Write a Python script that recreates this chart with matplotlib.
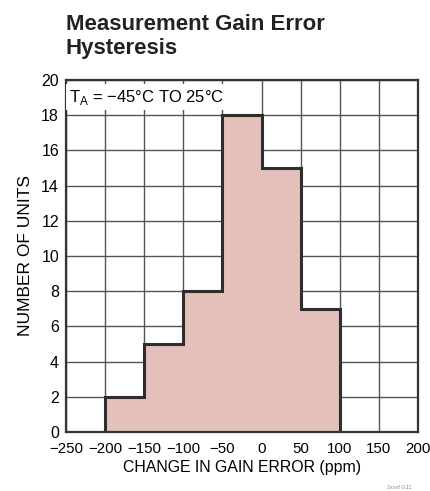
import matplotlib.pyplot as plt

# histogram bins (ppm) and counts
binEdges = [-200, -150, -100, -50, 0, 50, 100]
counts = [2, 5, 8, 18, 15, 7]
xTicks = [-250, -200, -150, -100, -50, 0, 50, 100, 150, 200]
yTicks = [0, 2, 4, 6, 8, 10, 12, 14, 16, 18, 20]

plt.rcParams['font.family'] = ['Liberation Sans', 'DejaVu Sans']

fig = plt.figure(figsize=(4.31, 4.91), dpi=100)
ax = fig.add_axes([0.1531, 0.1202, 0.8167, 0.7169])

ax.stairs(counts, binEdges, fill=True, color='#e4c0bb', zorder=2)
ax.stairs(counts, binEdges, fill=False, baseline=0, color='#2e2e2e', linewidth=2.2, zorder=3)

ax.set_xlim(-250, 200)
ax.set_ylim(0, 20)
ax.set_xticks(xTicks)
ax.set_yticks(yTicks)
ax.set_xticklabels([str(t).replace('-', '\u2212') for t in xTicks])
ax.tick_params(axis='y', length=0, labelsize=11.5, pad=5)
ax.tick_params(axis='x', length=0, labelsize=10.8, pad=7)
ax.grid(color='#555555', linewidth=1.0, zorder=1)
ax.set_axisbelow(True)
for s in ax.spines.values():
    s.set_linewidth(1.6)
    s.set_color('#333333')
    s.set_zorder(4)

ax.set_xlabel('CHANGE IN GAIN ERROR (ppm)', fontsize=11.4, labelpad=3)
ax.set_ylabel('NUMBER OF UNITS', fontsize=12.5, labelpad=6)

ax.text(-246, 19.55, 'T$_\\mathregular{A}$ = \u221245\u00b0C TO 25\u00b0C',
        fontsize=12, va='top', ha='left', zorder=5,
        bbox=dict(facecolor='white', edgecolor='none', pad=2.5))

fig.text(0.1531, 0.972, 'Measurement Gain Error\nHysteresis', fontsize=16, fontweight='bold',
         va='top', ha='left', linespacing=1.2, color='#222222')
fig.text(0.955, 0.003, '2xxxf G11', fontsize=4, color='#888888', ha='right', va='bottom')

fig.savefig('out.png', dpi=100)
